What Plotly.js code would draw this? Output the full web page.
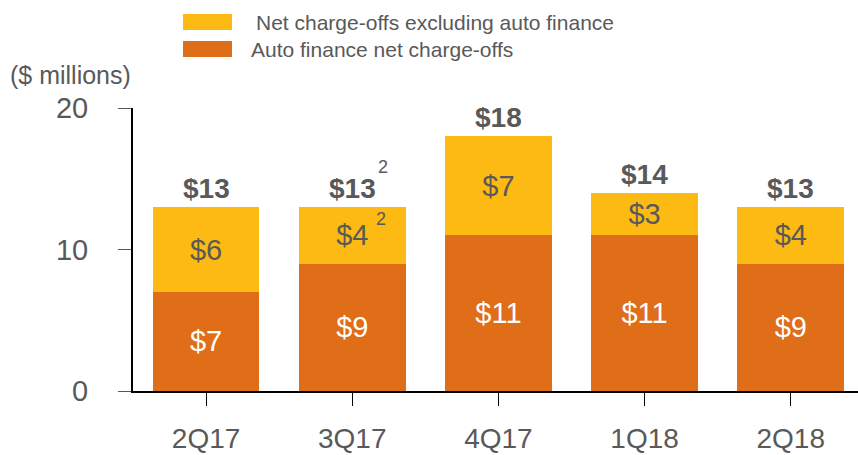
<!DOCTYPE html>
<html>
<head>
<meta charset="utf-8">
<script src="https://cdn.plot.ly/plotly-3.0.1.min.js"></script>
<style>
  body { margin: 0; background: #fff; }
  #chart { width: 858px; height: 455px; }
</style>
</head>
<body>
<div id="chart"></div>
<script>
// quarters and net charge-offs, $ millions
let quarters = ['2Q17', '3Q17', '4Q17', '1Q18', '2Q18'];
let autoNCO = [7, 9, 11, 11, 9];
let otherNCO = [6, 4, 7, 3, 4];
let totals = [13, 13, 18, 14, 13];
let yTicks = [0, 10, 20];

let grey = '#595959';
let orange = '#E06D17';
let yellow = '#FCBA12';
let fnt = 'Arial, "Liberation Sans", sans-serif';

let traces = [
    {
        type: 'bar',
        name: 'Auto finance net charge-offs',
        x: quarters,
        y: autoNCO,
        marker: {color: orange},
        width: 0.73,
        text: autoNCO.map(v => '$' + v),
        textposition: 'inside',
        insidetextanchor: 'middle',
        textfont: {family: fnt, size: 29, color: '#ffffff'},
        constraintext: 'none',
        hoverinfo: 'none',
        showlegend: false
    },
    {
        type: 'bar',
        name: 'Net charge-offs excluding auto finance',
        x: quarters,
        y: otherNCO,
        marker: {color: yellow},
        width: 0.73,
        text: otherNCO.map(v => '$' + v),
        textposition: 'inside',
        insidetextanchor: 'middle',
        textfont: {family: fnt, size: 29, color: grey},
        constraintext: 'none',
        hoverinfo: 'none',
        showlegend: false
    }
];

let notes = quarters.map((q, i) => ({
    x: q, y: totals[i], xref: 'x', yref: 'y',
    text: '<b>$' + totals[i] + '</b>',
    showarrow: false, yanchor: 'bottom', yshift: 1,
    font: {family: fnt, size: 28, color: grey}
}));

// footnote marks on 3Q17
notes.push({
    x: quarters[1], y: totals[1], xref: 'x', yref: 'y',
    text: '2', showarrow: false, yanchor: 'bottom',
    xshift: 31, yshift: 28,
    font: {family: fnt, size: 18, color: grey}
});
notes.push({
    x: quarters[1], y: autoNCO[1] + otherNCO[1] / 2, xref: 'x', yref: 'y',
    text: '2', showarrow: false,
    xshift: 29, yshift: 16,
    font: {family: fnt, size: 18, color: grey}
});

// helpers for paper coords (plot area 133..858 x, 108..391 y)
let px = x => (x - 133) / 725;
let py = y => (391 - y) / 283;

// unit label
notes.push({
    x: px(8), y: py(75), xref: 'paper', yref: 'paper',
    text: '($ millions)', showarrow: false, xanchor: 'left', yanchor: 'middle',
    font: {family: fnt, size: 25, color: grey}
});

// legend
let legendItems = [
    {label: 'Net charge-offs excluding auto finance', color: yellow, tx: 254, cy: 22},
    {label: 'Auto finance net charge-offs', color: orange, tx: 249, cy: 49}
];

let shapes = [];
legendItems.forEach(it => {
    shapes.push({
        type: 'rect', xref: 'paper', yref: 'paper',
        x0: px(183), x1: px(232),
        y0: py(it.cy + 8), y1: py(it.cy - 8),
        fillcolor: it.color, line: {width: 0}
    });
    notes.push({
        xref: 'paper', yref: 'paper',
        x: px(it.tx), y: py(it.cy),
        text: it.label, showarrow: false, xanchor: 'left', yanchor: 'middle',
        font: {family: fnt, size: 21, color: grey}
    });
});

let layout = {
    width: 858,
    height: 455,
    margin: {l: 133, r: 0, t: 108, b: 64},
    barmode: 'stack',
    plot_bgcolor: '#ffffff',
    paper_bgcolor: '#ffffff',
    font: {family: fnt, color: grey},
    xaxis: {
        range: [-0.5, 4.46],
        showline: true, linecolor: '#000000', linewidth: 2,
        ticks: 'outside', ticklen: 13, tickcolor: '#000000', tickwidth: 1,
        ticklabelstandoff: 8,
        tickfont: {family: fnt, size: 28, color: grey},
        showgrid: false, zeroline: false, fixedrange: true
    },
    yaxis: {
        range: [0, 20],
        tickvals: yTicks,
        showline: true, linecolor: '#000000', linewidth: 2,
        ticks: 'outside', ticklen: 13, tickcolor: '#595959', tickwidth: 1,
        ticklabelstandoff: 24,
        tickfont: {family: fnt, size: 29, color: grey},
        showgrid: false, zeroline: false, fixedrange: true
    },
    annotations: notes,
    shapes: shapes,
    showlegend: false
};

Plotly.newPlot('chart', traces, layout, {displayModeBar: false, staticPlot: true});
</script>
</body>
</html>
